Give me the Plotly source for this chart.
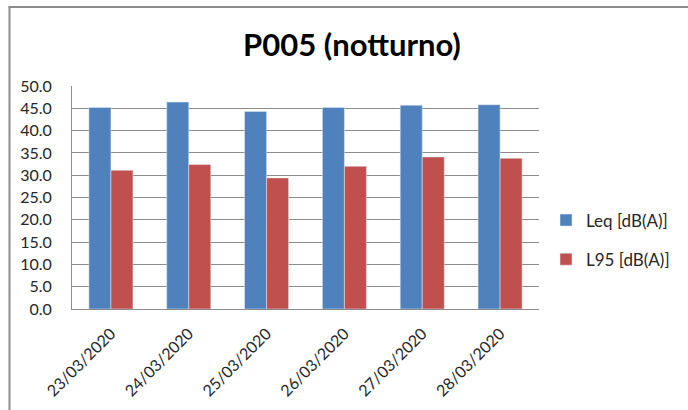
import plotly.graph_objects as go

# Nightly noise levels at station P005
dates = ["23/03/2020", "24/03/2020", "25/03/2020", "26/03/2020", "27/03/2020", "28/03/2020"]
leq = [45.2, 46.4, 44.3, 45.2, 45.7, 45.8]
l95 = [31.1, 32.4, 29.4, 32.0, 34.1, 33.8]
y_ticks = [0, 5, 10, 15, 20, 25, 30, 35, 40, 45, 50]

W, H = 688, 410
ML, MR, MT, MB = 72, 149, 86, 101
PW, PH = W - ML - MR, H - MT - MB

def px_x(x):
    return (x - ML) / PW

def px_y(y):
    return (H - MB - y) / PH

font_family = "Lato, 'Open Sans', sans-serif"
text_color = "#262626"
grid_color = "#8c8c8c"

fig = go.Figure()
fig.add_trace(go.Bar(x=dates, y=leq, name="Leq [dB(A)]", marker_color="#4F81BD",
                     legendgroup="a"))
fig.add_trace(go.Bar(x=dates, y=l95, name="L95 [dB(A)]", marker_color="#C0504D",
                     legendgroup="b"))

fig.update_layout(
    width=W, height=H,
    margin=dict(l=ML, r=MR, t=MT, b=MB, autoexpand=False),
    paper_bgcolor="white", plot_bgcolor="white",
    barmode="group", bargap=0.434, bargroupgap=0,
    font=dict(family=font_family, color=text_color, size=16),
    title=dict(text="<b>P005 (notturno)</b>", xref="container", x=352 / W,
               xanchor="center", yref="container", y=1 - 45 / H, yanchor="middle",
               font=dict(size=31, color="#000000", family=font_family)),
    legend=dict(x=px_x(546), xanchor="left", y=px_y(240), yanchor="middle",
                font=dict(size=17, color=text_color), tracegroupgap=14,
                bgcolor="rgba(0,0,0,0)"),
    xaxis=dict(tickangle=-45, showgrid=False, showline=True, linecolor=grid_color,
               linewidth=1, ticks="", tickfont=dict(size=16), ticklabelstandoff=8),
    yaxis=dict(range=[0, 50], tickvals=y_ticks, tickformat=".1f", showgrid=True,
               gridcolor=grid_color, gridwidth=1, showline=True, linecolor=grid_color,
               linewidth=1, ticks="", zeroline=False, tickfont=dict(size=16),
               ticklabelstandoff=16),
    shapes=[
        dict(type="line", xref="paper", yref="paper",
             x0=px_x(9.5), x1=px_x(9.5), y0=px_y(7), y1=px_y(H + 5),
             line=dict(color="#8c8c8c", width=2)),
        dict(type="line", xref="paper", yref="paper",
             x0=px_x(8.5), x1=px_x(W + 5), y0=px_y(7), y1=px_y(7),
             line=dict(color="#8c8c8c", width=2)),
    ],
)

fig.write_html("out.html")
